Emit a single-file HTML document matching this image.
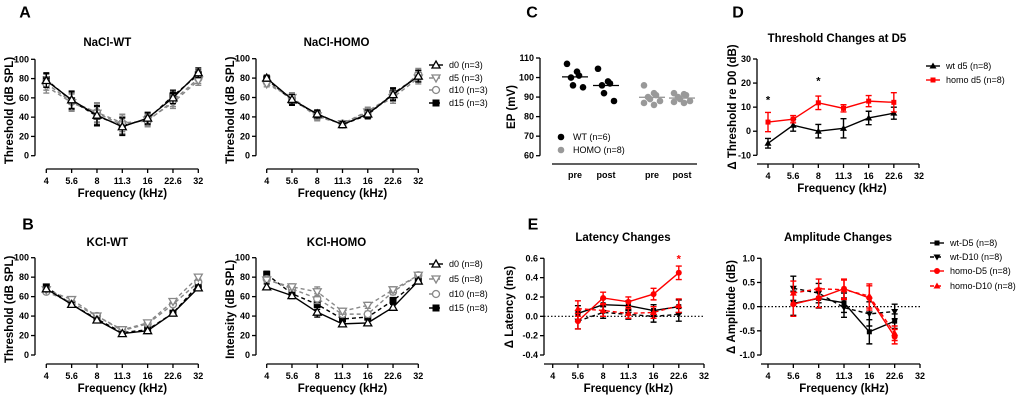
<!DOCTYPE html>
<html><head><meta charset="utf-8">
<style>
html,body{margin:0;padding:0;background:#fff;}
svg{display:block;font-family:"Liberation Sans",Arial,sans-serif;font-weight:bold;}
</style></head>
<body>
<svg id="fig" width="1020" height="403" viewBox="0 0 1020 403" xmlns="http://www.w3.org/2000/svg"></svg>
<script>
// ---------- data ----------
const freqLabels = ["4","5.6","8","11.3","16","22.6","32"];
const dayNames = ["d0","d5","d10","d15"];
const naclWtD0 = [78,58,42,30,39,60,86];
const naclWtD5 = [72,55,44,32,37,55,78];
const naclWtD10 = [75,56,45,34,36,57,80];
const naclWtD15 = [79,57,41,31,38,62,84];
const naclWtErr = [7,9,10,9,6,6,5];
const naclHoD0 = [80,58,43,32,43,63,82];
const naclHoD5 = [74,60,41,33,45,60,80];
const naclHoD10 = [76,59,40,33,46,62,84];
const naclHoD15 = [79,57,43,32,42,64,82];
const naclHoErr = [3,5,4,3,4,6,6];
const kclWtD0 = [68,52,36,22,25,43,69];
const kclWtD5 = [67,57,40,26,33,55,80];
const kclWtD10 = [65,54,40,25,32,52,75];
const kclWtD15 = [70,52,37,23,26,43,72];
const kclWtErr = [2,2,2,2,2,2,3];
const kclHoD0 = [70,61,44,32,33,49,76];
const kclHoD5 = [77,70,65,45,51,67,82];
const kclHoD10 = [78,68,58,42,42,65,82];
const kclHoD15 = [83,63,52,37,39,56,76];
const kclHoErr = [3,3,5,3,3,3,2];
const thrTicks = [0,20,40,60,80,100];
// C
const epGroups = ["pre","post","pre","post"];
const epWtPre = [107,103,101,100,96,95];
const epWtPost = [104.5,98,97,96,92,88];
const epHoPre = [96,92,91,90,89,88,87,86];
const epHoPost = [92,91.5,91,90,89,88,87.5,87];
const epTicks = [60,70,80,90,100,110];
// D
const dWt = [-5,2.5,0,1.2,5.5,7.5];
const dWtErr = [2,2.5,2.8,4,2.8,2.5];
const dHomo = [3.8,5,11.8,9.5,12.5,12];
const dHomoErr = [4,1.5,2.8,1.5,2.3,4];
const dTicks = [-10,0,10,20,30];
// E
const latWtD5 = [0.03,0.12,0.11,0.06,0.1];
const latWtD10 = [-0.05,0.04,0.02,0.0,0.02];
const latHoD5 = [-0.05,0.19,0.15,0.23,0.45];
const latHoD10 = [0.08,0.06,0.03,0.04,0.11];
const latErr = [0.08,0.06,0.05,0.06,0.07];
const latTicks = [-0.4,-0.2,0.0,0.2,0.4,0.6];
const latTickLabels = ["-0.4","-0.2","0.0","0.2","0.4","0.6"];
const ampWtD5 = [0.07,0.17,0.08,-0.52,-0.3];
const ampWtD10 = [0.38,0.28,-0.02,-0.15,-0.1];
const ampHoD5 = [0.05,0.18,0.37,0.18,-0.62];
const ampHoD10 = [0.28,0.37,0.35,0.22,-0.55];
const ampErr = [0.25,0.2,0.2,0.25,0.15];
const ampTicks = [-1.0,-0.5,0.0,0.5,1.0];
const ampTickLabels = ["-1.0","-0.5","0.0","0.5","1.0"];

// ---------- helpers ----------
const NS="http://www.w3.org/2000/svg";
const svg=document.getElementById('fig');
const TICK=9, TITLE=11.5, AXT=11.5, LEG=9;
function el(tag,attrs,parent){const e=document.createElementNS(NS,tag);for(const k in attrs)e.setAttribute(k,attrs[k]);(parent||svg).appendChild(e);return e;}
function txt(s,x,y,size,anchor,parent,extra){const t=el('text',Object.assign({x:x,y:y,'font-size':size,'text-anchor':anchor||'middle','dominant-baseline':'central'},extra||{}),parent);t.textContent=s;return t;}
function lin(x0,x1,d0,d1){return v=>x0+(v-d0)*(x1-x0)/(d1-d0);}

function marker(g,type,x,y,color){
  let m;
  if(type==='tri') m=el('path',{d:`M${x} ${y-4}L${x+4} ${y+3}L${x-4} ${y+3}Z`,fill:'#fff',stroke:color,'stroke-width':1.3},g);
  else if(type==='itri') m=el('path',{d:`M${x} ${y+4}L${x+4} ${y-3}L${x-4} ${y-3}Z`,fill:'#fff',stroke:color,'stroke-width':1.3},g);
  else if(type==='circ') m=el('circle',{cx:x,cy:y,r:3.5,fill:'#fff',stroke:color,'stroke-width':1.3},g);
  else if(type==='sq') m=el('rect',{x:x-3.5,y:y-3.5,width:7,height:7,fill:color},g);
  else if(type==='sqs') m=el('rect',{x:x-2.5,y:y-2.5,width:5,height:5,fill:color},g);
  else if(type==='ftri') m=el('path',{d:`M${x} ${y-3.5}L${x+3.5} ${y+2.5}L${x-3.5} ${y+2.5}Z`,fill:color},g);
  else if(type==='fitri') m=el('path',{d:`M${x} ${y+3.5}L${x+3.5} ${y-2.5}L${x-3.5} ${y-2.5}Z`,fill:color},g);
  else if(type==='dot') m=el('circle',{cx:x,cy:y,r:3,fill:color},g);
  
  
  return m;
}

function series(g,name,xs,vals,errs,sx,sy,color,dash,mtype,sw){
  const sg=el('g',{},g);
  
  
  let d='';
  vals.forEach((v,i)=>{d+=(i?'L':'M')+sx(xs[i])+' '+sy(v);});
  const p=el('path',{d:d,fill:'none',stroke:color,'stroke-width':sw||1.4,'stroke-dasharray':dash||'none'},sg);
  
  
  vals.forEach((v,i)=>{
    if(errs){const x=sx(xs[i]),a=sy(v+errs[i]),b=sy(v-errs[i]);
      const e=el('path',{d:`M${x} ${a}V${b}M${x-3} ${a}H${x+3}M${x-3} ${b}H${x+3}`,stroke:color,'stroke-width':1.4,fill:'none'},sg);
      
      }
    marker(sg,mtype,sx(xs[i]),sy(v),color);
  });
}

function yAxis(g,axX,ticks,labels,sy){
  const yMin=Math.min(...ticks.map(sy)),yMax=Math.max(...ticks.map(sy));
  el('line',{x1:axX,x2:axX,y1:yMin,y2:yMax,stroke:'#000','stroke-width':1.3},g);
  ticks.forEach((t,i)=>{el('line',{x1:axX-4,x2:axX,y1:sy(t),y2:sy(t),stroke:'#000','stroke-width':1.3},g);
    const l=txt(labels[i],axX-6,sy(t),TICK,'end',g);
    
    });
}
function xAxis(g,axY,x0,x1,sx,idxs,labels){
  el('line',{x1:x0,x2:x1,y1:axY,y2:axY,stroke:'#000','stroke-width':1.3},g);
  idxs.forEach((i,k)=>{el('line',{x1:sx(i),x2:sx(i),y1:axY,y2:axY+4,stroke:'#000','stroke-width':1.3},g);
    const l=txt(labels[k],sx(i),axY+12,TICK,'middle',g);
    
    });
}
function titles(g,title,tx,ty,xt,xtx,xty,yt,ytx,yty){
  const t=txt(title,tx,ty,TITLE,'middle',g);
  
  
  const a=txt(xt,xtx,xty,AXT,'middle',g);
  
  
  const b=txt(yt,0,0,AXT,'middle',g,{transform:`translate(${ytx},${yty}) rotate(-90)`});
  
  
}
function letter(s,x,y){const t=txt(s,x,y,16,'middle');}

const idx7=[0,1,2,3,4,5,6];
const dayStyles=[['#000','','tri'],['#888','4,3','itri'],['#888','4,3','circ'],['#000','4,3','sq']];

function thrPanel(name,x0,x1,yTop,yBot,axX,axY,title,ytitle,sets,err){
  const g=el('g',{});
  
  
  const sx=lin(x0,x1,0,6), sy=lin(yBot,yTop,0,100);
  yAxis(g,axX,thrTicks,thrTicks.map(String),sy);
  xAxis(g,axY,x0,x1,sx,idx7,freqLabels);
  [3,2,1,0].forEach(k=>series(g,dayNames[k]+'-series',idx7,sets[k],err,sx,sy,dayStyles[k][0],dayStyles[k][1],dayStyles[k][2]));
  titles(g,title,(x0+x1)/2-(x0<100?15:6),43+(yTop>200?200:0),'Frequency (kHz)',(x0+x1)/2,axY+25,ytitle,axX-25,(yTop+yBot)/2+3);
}
function legend(name,x,ys,labels,styles){
  const g=el('g',{});
  
  
  labels.forEach((s,i)=>{
    const ge=el('g',{},g);
    
    
    el('line',{x1:x-7,x2:x+7,y1:ys[i],y2:ys[i],stroke:styles[i][0],'stroke-width':1.4,'stroke-dasharray':styles[i][1]||'none'},ge);
    marker(ge,styles[i][2],x,ys[i],styles[i][0]);
    txt(s,x+13,ys[i],LEG,'start',ge,{'font-weight':'normal'});
  });
}

// A
letter('A',25,13);
thrPanel('nacl-wt-chart',46.3,198.3,59.3,155.7,35,169,'NaCl-WT','Threshold (dB SPL)',[naclWtD0,naclWtD5,naclWtD10,naclWtD15],naclWtErr);
thrPanel('nacl-homo-chart',266.7,418.3,58.7,155.7,256,169,'NaCl-HOMO','Threshold (dB SPL)',[naclHoD0,naclHoD5,naclHoD10,naclHoD15],naclHoErr);
legend('nacl-legend',436,[65,78,90,103],dayNames.map(d=>d+' (n=3)'),dayStyles);
// B
letter('B',28,225);
thrPanel('kcl-wt-chart',46.3,198.3,257.7,355,35,364,'KCl-WT','Threshold (dB SPL)',[kclWtD0,kclWtD5,kclWtD10,kclWtD15],kclWtErr);
thrPanel('kcl-homo-chart',266.7,418.3,257.7,355,256,364,'KCl-HOMO','Intensity (dB SPL)',[kclHoD0,kclHoD5,kclHoD10,kclHoD15],kclHoErr);
legend('kcl-legend',436,[264,279,294,308],dayNames.map(d=>d+' (n=8)'),dayStyles);

// C
letter('C',532,13);
(function(){
  const g=el('g',{});
  
  
  const sy=lin(155.7,58,60,110);
  yAxis(g,540,epTicks,epTicks.map(String),sy);
  el('line',{x1:552,x2:697,y1:164,y2:164,stroke:'#000','stroke-width':1.3},g);
  const gx=[575,606,652,682];
  epGroups.forEach((s,i)=>{const l=txt(s,gx[i],175,TICK,'middle',g);});
  const sets=[epWtPre,epWtPost,epHoPre,epHoPost];
  sets.forEach((arr,k)=>{
    const col=k<2?'#000':'#999';
    const mean=arr.reduce((a,b)=>a+b,0)/arr.length;
    el('line',{x1:gx[k]-13,x2:gx[k]+13,y1:sy(mean),y2:sy(mean),stroke:col,'stroke-width':1.3},g);
    arr.forEach((v,i)=>{const off=((i%3)-1)*6+(i%2?2:-2);
      const c=el('circle',{cx:gx[k]+off,cy:sy(v),r:3.3,fill:col},g);
      
      });
  });
  const t=txt('EP (mV)',0,0,AXT,'middle',g,{transform:'translate(512,107) rotate(-90)'});
  
  const lg=el('g',{},g);
  el('circle',{cx:561,cy:137,r:3.3,fill:'#000'},lg);txt('WT (n=6)',573,137,LEG,'start',lg,{'font-weight':'normal'});
  el('circle',{cx:561,cy:150,r:3.3,fill:'#999'},lg);txt('HOMO (n=8)',573,150,LEG,'start',lg,{'font-weight':'normal'});
})();

// D
letter('D',738,13);
(function(){
  const g=el('g',{});
  
  
  const sx=lin(768,919,0,6), sy=lin(155.3,59,-10,30);
  yAxis(g,757,dTicks,dTicks.map(String),sy);
  xAxis(g,164,757,919,sx,idx7,freqLabels);
  const xs=[0,1,2,3,4,5];
  series(g,'wt-d5-series',xs,dWt,dWtErr,sx,sy,'#000','', 'ftri');
  series(g,'homo-d5-series',xs,dHomo,dHomoErr,sx,sy,'#f00','', 'sqs');
  txt('*',sx(0),sy(14)+3,11,'middle',g);
  txt('*',sx(2),sy(22)+3,11,'middle',g);
  titles(g,'Threshold Changes at D5',837,39,'Frequency (kHz)',842,189,'Δ Threshold re D0 (dB)',733,107);
  legend('d-legend',933,[66,80],['wt d5 (n=8)','homo d5 (n=8)'],[['#000','','ftri'],['#f00','','sqs']]);
})();

// E
letter('E',533,225);
const eStyles=[['#000','','sqs'],['#000','4,3','fitri'],['#f00','','dot'],['#f00','4,3','ftri']];
function ePanel(name,axX,x0,x1,yTop,yBot,d0,d1,ticks,labels,sets,err,title,tx,ytitle,ytx){
  const g=el('g',{});
  
  
  const sx=lin(x0,x1,0,6), sy=lin(yBot,yTop,d0,d1);
  yAxis(g,axX,ticks,labels,sy);
  xAxis(g,364,axX,x1,sx,idx7,freqLabels);
  el('line',{x1:axX,x2:x1,y1:sy(0),y2:sy(0),stroke:'#000','stroke-width':1.2,'stroke-dasharray':'1.5,2'},g);
  const xs=[1,2,3,4,5];
  const nm=['wt-d5','wt-d10','homo-d5','homo-d10'];
  sets.forEach((s,k)=>series(g,nm[k]+'-series',xs,s,err,sx,sy,eStyles[k][0],eStyles[k][1],eStyles[k][2]));
  titles(g,title,tx,238,'Frequency (kHz)',(x0+x1)/2,389,ytitle,ytx,307);
  return {sx,sy,g};
}
const lat=ePanel('latency-chart',544,552.7,704,258.3,355,-0.4,0.6,latTicks,latTickLabels,[latWtD5,latWtD10,latHoD5,latHoD10],latErr,'Latency Changes',623,'Δ Latency (ms)',510);
txt('*',lat.sx(5),lat.sy(0.62)+3,11,'middle',lat.g,{fill:'#f00'});
ePanel('amplitude-chart',761,768,920,258.3,355,-1,1,ampTicks,ampTickLabels,[ampWtD5,ampWtD10,ampHoD5,ampHoD10],ampErr,'Amplitude Changes',838,'Δ Amplitude (dB)',732);
legend('e-legend',937,[243,257,271,286],['wt-D5 (n=8)','wt-D10 (n=8)','homo-D5 (n=8)','homo-D10 (n=8)'],eStyles);
</script>
</body></html>
